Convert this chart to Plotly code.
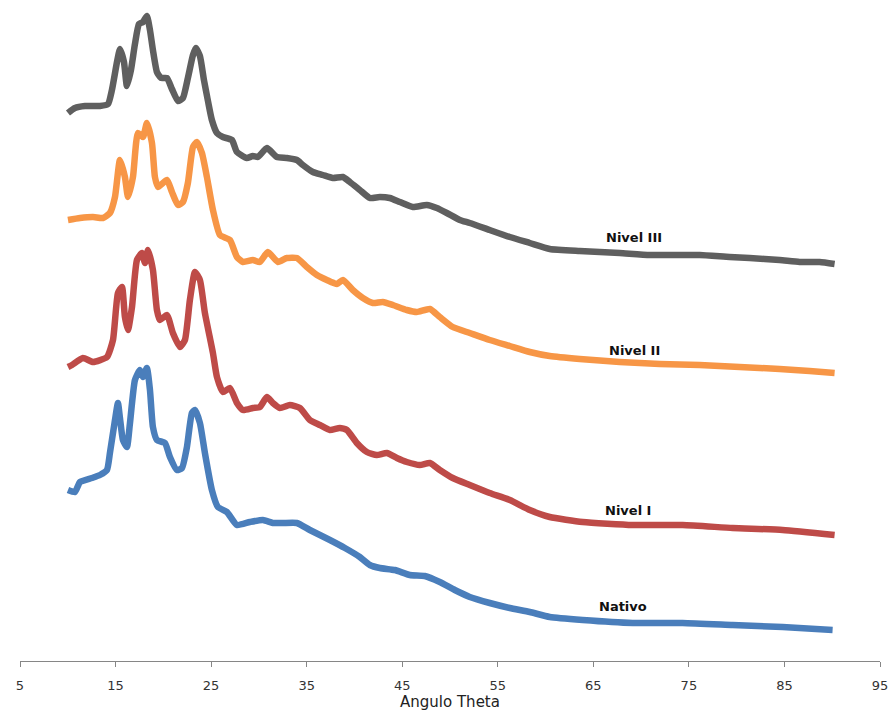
import plotly.graph_objects as go

# ---- data ----
theta_nivel3 = [10.02, 10.75, 11.80, 13.37, 14.21, 14.62, 15.15, 15.46, 15.88, 16.19, 16.61, 17.03, 17.45, 17.87,
                18.28, 18.60, 18.91, 19.33, 19.75, 20.38, 20.90, 21.53, 22.05, 22.57, 23.10, 23.41, 23.83, 24.25,
                24.67, 25.08, 25.61, 26.23, 27.18, 27.70, 28.74, 29.37, 29.90, 30.84, 31.88, 32.93, 33.98, 34.60,
                35.65, 36.69, 37.74, 38.79, 39.52, 40.56, 41.61, 42.66, 43.70, 44.75, 46.11, 47.57, 48.62, 49.67,
                51.03, 52.07, 54.16, 56.26, 58.35, 60.44, 63.58, 65.67, 67.76, 70.90, 74.04, 76.13, 79.27, 81.36,
                84.50, 86.59, 88.68, 90.25]
int_nivel3 = [548, 553, 555, 555, 557, 571, 599, 612, 599, 575, 591, 617, 637, 639,
              645, 631, 611, 589, 583, 583, 572, 560, 563, 583, 606, 613, 605, 581,
              560, 541, 528, 524, 521, 509, 503, 505, 504, 513, 504, 503, 501, 496,
              489, 486, 483, 484, 479, 471, 463, 464, 463, 459, 454, 456, 453, 448,
              441, 438, 431, 424, 418, 412, 410, 409, 408, 406, 406, 406, 404, 403,
              401, 399, 399, 397]

theta_nivel2 = [10.02, 11.28, 12.64, 13.68, 14.41, 14.94, 15.46, 15.98, 16.30, 16.82, 17.34, 17.87, 18.28, 18.81,
                19.12, 19.44, 20.38, 20.90, 21.53, 22.05, 22.57, 23.10, 23.51, 24.04, 24.56, 25.19, 25.92, 26.97,
                27.70, 28.33, 29.37, 30.10, 30.94, 31.99, 32.93, 33.98, 35.02, 36.07, 37.11, 38.16, 38.79, 39.83,
                40.88, 41.92, 42.97, 44.02, 45.48, 46.53, 47.89, 48.93, 50.29, 52.07, 54.16, 56.26, 58.35, 60.44,
                63.58, 67.76, 71.95, 76.13, 80.31, 84.50, 87.64, 90.25]
int_nivel2 = [441, 443, 444, 443, 448, 464, 501, 484, 464, 484, 528, 524, 538, 518,
              484, 474, 481, 469, 456, 459, 478, 514, 519, 508, 484, 451, 426, 421,
              404, 399, 401, 399, 409, 399, 403, 403, 394, 386, 381, 377, 381, 371,
              363, 358, 359, 356, 351, 349, 352, 344, 334, 328, 321, 315, 309, 305,
              302, 299, 297, 296, 294, 292, 290, 288]

theta_nivel1 = [10.02, 10.44, 11.59, 12.64, 14.10, 14.73, 15.25, 15.67, 15.98, 16.30, 16.72, 17.24, 17.76, 18.08,
                18.39, 18.91, 19.33, 19.64, 20.38, 21.00, 21.74, 22.26, 22.78, 23.31, 23.83, 24.35, 25.19, 25.61,
                26.23, 26.97, 27.70, 28.33, 29.37, 30.10, 30.84, 31.46, 32.20, 33.24, 34.29, 35.33, 36.38, 37.43,
                38.47, 39.21, 40.25, 41.30, 42.34, 43.39, 44.44, 45.48, 46.84, 47.89, 48.93, 50.29, 52.07, 54.16,
                56.26, 58.35, 60.44, 63.89, 69.12, 74.35, 79.58, 84.81, 90.25]
int_nivel1 = [294, 296, 303, 299, 304, 321, 368, 374, 344, 331, 354, 401, 408, 398,
              411, 391, 351, 341, 346, 328, 314, 321, 361, 389, 381, 348, 308, 284,
              269, 273, 258, 251, 253, 254, 264, 258, 253, 256, 253, 241, 236, 231,
              233, 231, 218, 209, 206, 208, 203, 199, 196, 198, 191, 183, 176, 168,
              161, 151, 144, 139, 136, 136, 133, 131, 126]

theta_nativo = [10.02, 10.75, 11.28, 12.53, 13.37, 14.10, 14.41, 14.94, 15.25, 15.46, 15.77, 16.19, 16.51, 17.03,
                17.55, 17.87, 18.28, 18.60, 18.91, 19.33, 20.17, 20.69, 21.42, 21.95, 22.47, 22.99, 23.31, 23.83,
                24.35, 25.08, 25.71, 26.65, 27.70, 29.06, 30.42, 31.46, 32.51, 33.98, 35.33, 37.43, 39.00, 40.56,
                41.61, 42.66, 44.23, 45.79, 47.36, 48.93, 50.50, 52.07, 54.16, 56.26, 58.35, 60.44, 63.89, 69.12,
                74.35, 79.58, 84.81, 90.04]
int_nativo = [171, 169, 179, 183, 186, 191, 208, 241, 258, 243, 221, 214, 238, 281,
              291, 284, 293, 271, 234, 221, 218, 204, 191, 193, 214, 248, 251, 238,
              208, 171, 154, 149, 136, 139, 141, 138, 138, 138, 131, 121, 113, 104,
              96, 93, 91, 86, 85, 79, 71, 64, 58, 53, 49, 44, 41, 38,
              38, 36, 34, 31]

series_names = ["Nativo", "Nivel I", "Nivel II", "Nivel III"]
series_colors = ["#4A7EBB", "#BE4B48", "#F79646", "#5F5F5F"]
label_theta = [68.1, 68.6, 69.3, 69.3]
label_int = [55, 151, 311, 424]

x_ticks = [5, 15, 25, 35, 45, 55, 65, 75, 85, 95]

xs = [theta_nativo, theta_nivel1, theta_nivel2, theta_nivel3]
ys = [int_nativo, int_nivel1, int_nivel2, int_nivel3]

fig = go.Figure()
for x, y, name, col in zip(xs, ys, series_names, series_colors):
    fig.add_trace(go.Scatter(x=x, y=y, mode="lines", name=name,
                             line=dict(color=col, width=6.5, shape="spline", smoothing=0.5)))

for name, lx, ly in zip(series_names, label_theta, label_int):
    fig.add_annotation(x=lx, y=ly, text="<b>" + name + "</b>", showarrow=False,
                       font=dict(family="DejaVu Sans", size=13, color="#111111"))

fig.update_layout(
    width=891, height=711,
    margin=dict(l=20, r=11, t=10, b=50),
    paper_bgcolor="white", plot_bgcolor="white",
    showlegend=False,
    xaxis=dict(range=[5, 95], tickvals=x_ticks, ticktext=[str(v) for v in x_ticks],
               automargin=False,
               showgrid=False, zeroline=False, showline=True, linecolor="#868686", linewidth=1,
               ticks="outside", ticklen=5, tickcolor="#868686", ticklabelstandoff=7,
               tickfont=dict(family="DejaVu Sans", size=13, color="#333333"),
               title=dict(text="Angulo Theta", standoff=7,
                          font=dict(family="DejaVu Sans", size=15, color="#222222"))),
    yaxis=dict(range=[0, 651], visible=False, automargin=False),
)

fig.write_html("out.html", config={"displayModeBar": False},
               post_script="document.body.style.margin='0';document.body.style.overflow='hidden';")
